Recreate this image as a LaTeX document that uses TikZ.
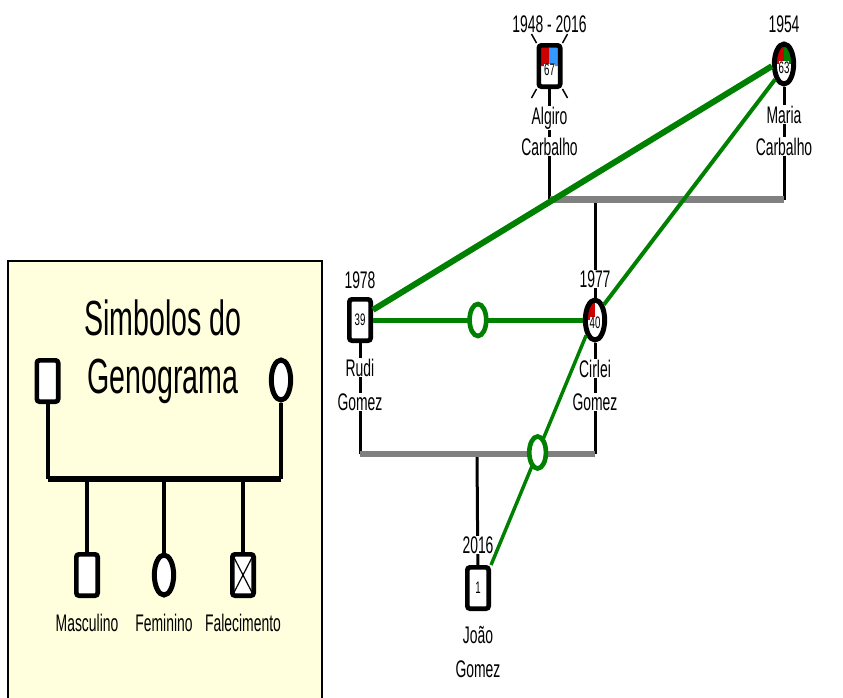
\documentclass[tikz,border=0pt]{standalone}
\usepackage{fontspec}
\setmainfont{Liberation Sans}[FakeStretch=0.58]
\usetikzlibrary{shapes.geometric}
\definecolor{LinkClr}{rgb}{0,0.5,0}
\definecolor{UnionClr}{rgb}{0.5,0.5,0.5}
\definecolor{RedClr}{rgb}{0.8,0,0}
\definecolor{BlueClr}{rgb}{0.2,0.6,1}
\definecolor{BoxClr}{rgb}{1,1,0.87}

\tikzset{
  Masc/.style={draw,line width=3.5pt,rounded corners=2pt,fill=white,inner sep=0pt,
    minimum width=16pt,minimum height=31pt},
  Fem/.style={ellipse,draw,line width=3.75pt,fill=white,inner sep=0pt,
    minimum width=14.5pt,minimum height=30pt},
  Marks/.style 2 args={path picture={
    \fill[#1] (path picture bounding box.center) rectangle (path picture bounding box.north west);
    \fill[#2] (path picture bounding box.center) rectangle (path picture bounding box.north east);}},
  Lbl/.style={font=\fontsize{18}{20}\selectfont,fill=white,inner sep=0.5pt,anchor=base},
  LegLbl/.style={font=\fontsize{18}{20}\selectfont,inner sep=0pt,anchor=base},
  Age/.style={font=\fontsize{12.5}{14}\selectfont,fill=white,inner sep=0pt},
  Desc/.style={line width=2.25pt},
  Union/.style={line width=4.75pt,color=UnionClr},
  Knot/.style={ellipse,draw=LinkClr,line width=3.5pt,fill=white,inner sep=0pt,
    minimum width=12.5pt,minimum height=24pt}
}

\begin{document}
\begin{tikzpicture}[x=0.75pt,y=-0.75pt]
\useasboundingbox (0,0) rectangle (843,697);

% legenda
\draw[line width=1.2pt,fill=BoxClr] (8,261) rectangle (322,720);
\node[font=\fontsize{37}{42}\selectfont,anchor=base,inner sep=0pt] (Tit1) at (163,335) {Simbolos do};
\node[font=\fontsize{37}{42}\selectfont,anchor=base,inner sep=0pt] (Tit2) at (163,393) {Genograma};

\node[Masc] (LM) at (47.5,381) {};
\node[Fem] (LF) at (281,380) {};
\node[Masc] (LC1) at (87,575) {};
\node[Fem] (LC2) at (164,575) {};
\node[Masc,path picture={\draw[line width=0.9pt] (path picture bounding box.north west) -- (path picture bounding box.south east)
  (path picture bounding box.north east) -- (path picture bounding box.south west);}] (LC3) at (243,575) {};

\coordinate (LMb) at (47.5,478.5);
\coordinate (LFb) at (281,478.5);
\draw[line width=3pt] (LM) -- (LMb);
\draw[line width=3pt] (LF) -- (LFb);
\draw[line width=4.5pt] (LMb) -- (LFb);
\foreach \k in {1,2,3}
  \draw[line width=3pt] (LC\k |- LMb) -- (LC\k);

\node[LegLbl] (LT1) at (87,631) {Masculino};
\node[LegLbl] (LT2) at (164,631) {Feminino};
\node[LegLbl] (LT3) at (243,631) {Falecimento};

% familia
\node[Masc,Marks={RedClr}{BlueClr}] (Alg) at (549.5,66) {};
\node[Fem,Marks={RedClr}{LinkClr}] (Mar) at (784,64) {};
\node[Masc] (Rud) at (360,320) {};
\node[Fem,Marks={RedClr}{white}] (Cir) at (595,320) {};
\node[Masc] (Joa) at (478,588) {};

\draw[line width=1.1pt] (Alg.north west) -- ++(-5,-9) (Alg.north east) -- ++(5,-9)
  (Alg.south west) -- ++(-5,9) (Alg.south east) -- ++(5,9);

\coordinate (AlgB) at (549.5,199.5);
\coordinate (MarB) at (784,199.5);
\coordinate (AMkid) at (595,199.5);
\coordinate (RudB) at (360,454);
\coordinate (CirB) at (595,454);
\coordinate (RCkid) at (477,454);

\draw[Desc] (Alg) -- (AlgB);
\draw[Desc] (Mar) -- (MarB);
\draw[Desc] (AMkid) -- (Cir);
\draw[Desc] (Rud) -- (RudB);
\draw[Desc] (Cir) -- (CirB);
\draw[Desc] (RCkid) -- (Joa);
\draw[Union] (AlgB) -- (MarB);
\draw[Union] (RudB) -- (CirB);

\draw[LinkClr,line width=4.5pt] (Rud.38) -- (Mar.190);
\draw[LinkClr,line width=3.75pt] (Rud.east) -- (Cir.west) node[Knot,pos=0.5] (K1) {};
\draw[LinkClr,line width=3pt] (Mar.240) -- (Cir.60);
\draw[LinkClr,line width=2.6pt] (Cir.240) -- (Joa.north east) node[Knot,pos=0.51] (K2) {};

\node[Age] (AlgA) at ([yshift=-3pt]Alg.center) {67};
\node[Age] (MarA) at ([yshift=-2.5pt]Mar.center) {63};
\node[Age] (RudA) at (Rud.center) {39};
\node[Age] (CirA) at ([yshift=-2pt]Cir.center) {40};
\node[Age] (JoaA) at (Joa.center) {1};

\node[Lbl] (AlgY) at (549.5,32) {1948 - 2016};
\node[Lbl] (AlgN1) at (549.5,124) {Algiro};
\node[Lbl] (AlgN2) at (549.5,155) {Carbalho};
\node[Lbl] (MarY) at (784,32) {1954};
\node[Lbl] (MarN1) at (784,123) {Maria};
\node[Lbl] (MarN2) at (784,155) {Carbalho};
\node[Lbl] (RudY) at (360,288) {1978};
\node[Lbl] (RudN1) at (360,376) {Rudi};
\node[Lbl] (RudN2) at (360,410) {Gomez};
\node[Lbl] (CirY) at (595,287) {1977};
\node[Lbl] (CirN1) at (595,377) {Cirlei};
\node[Lbl] (CirN2) at (595,410) {Gomez};
\node[Lbl] (JoaY) at (478,553) {2016};
\node[Lbl] (JoaN1) at (478,643) {João};
\node[Lbl] (JoaN2) at (478,677) {Gomez};
\end{tikzpicture}
\end{document}
